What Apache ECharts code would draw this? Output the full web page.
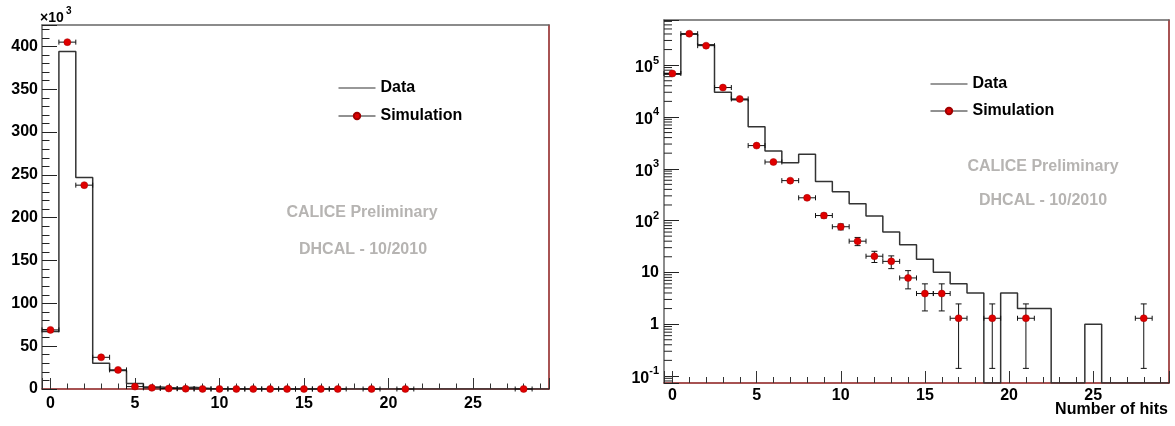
<!DOCTYPE html>
<html><head><meta charset="utf-8">
<script src="https://cdn.jsdelivr.net/npm/echarts@6/dist/echarts.min.js"></script>
<style>html,body{margin:0;padding:0;background:#fff}#c{width:1175px;height:426px}</style>
</head><body><div id="c"></div>
<script>
// ---- data ----
const binCenters = [0,1,2,3,4,5,6,7,8,9,10,11,12,13,14,15,16,17,18,19,20,21,22,23,24,25,26,27,28,29];
const dataCounts = [67000,394000,247000,30000,21500,6500,2200,1300,1900,570,360,210,122,60,34,18,10,6,4,0,4,2,2,0,0,1,0,0,0,0];
const simHits   = [0,1,2,3,4,5,6,7,8,9,10,11,12,13,14,15,16,17,19,21,28];
const simCounts = [69000,405000,238000,37000,22300,2800,1350,590,275,125,76,40,20.5,16.3,7.8,3.9,3.9,1.3,1.3,1.3,1.3];
const simErrors = [300,700,550,220,170,60,42,28,19,13,10,7.2,5,4.5,3.0,2.1,2.1,1.16,1.16,1.16,1.16];
const linTickLabels = ['0','50','100','150','200','250','300','350','400'];
const logTickLabels = ['10^-1','1','10','10^2','10^3','10^4','10^5'];
const xTickLabels = ['0','5','10','15','20','25'];
const xAxisTitle = 'Number of hits';

const LOG_MIN = -1.136, LOG_MAX = 5.872;
const FONT = 'Liberation Sans, Arial, sans-serif';
const RED_AXIS = '#8b1a1a';
const GRAY_AXIS = '#666';

const lin = v => v / 1000;
const lg = v => v > 0 ? Math.log10(v) : LOG_MIN;

function stepPoints(tf) {
  const pts = [];
  dataCounts.forEach((v, i) => {
    const c = binCenters[i];
    pts.push([c - 0.5, tf(v)], [c + 0.5, tf(v)]);
  });
  return pts;
}
function simPoints(tf) { return simHits.map((x, i) => [x, tf(simCounts[i])]); }
function simBars(tf) {
  return simHits.map((x, i) => [x, tf(simCounts[i]), tf(simCounts[i] - simErrors[i]), tf(simCounts[i] + simErrors[i])]);
}
function errRender(params, api) {
  const x = api.value(0), y = api.value(1), lo = api.value(2), hi = api.value(3);
  const a = api.coord([x - 0.5, y]), b = api.coord([x + 0.5, y]);
  const l = api.coord([x, lo]), h = api.coord([x, hi]);
  const st = {stroke: '#111', lineWidth: 1};
  const ch = [
    {type: 'line', shape: {x1: a[0], y1: a[1], x2: b[0], y2: b[1]}, style: st},
    {type: 'line', shape: {x1: a[0], y1: a[1] - 2.5, x2: a[0], y2: a[1] + 2.5}, style: st},
    {type: 'line', shape: {x1: b[0], y1: b[1] - 2.5, x2: b[0], y2: b[1] + 2.5}, style: st}
  ];
  if (Math.abs(h[1] - l[1]) > 2) {
    ch.push({type: 'line', shape: {x1: l[0], y1: l[1], x2: h[0], y2: h[1]}, style: st});
    ch.push({type: 'line', shape: {x1: l[0] - 3, y1: l[1], x2: l[0] + 3, y2: l[1]}, style: st});
    ch.push({type: 'line', shape: {x1: h[0] - 3, y1: h[1], x2: h[0] + 3, y2: h[1]}, style: st});
  }
  return {type: 'group', children: ch};
}
// minor ticks of the log axis (2..9 x 10^n)
const logMinor = [];
for (let n = -2; n <= 5; n++) for (let k = 2; k <= 9; k++) {
  const v = Math.log10(k) + n;
  if (v > LOG_MIN && v < LOG_MAX) logMinor.push([v]);
}
function minorRender(params, api) {
  const p = api.coord([-0.5, api.value(0)]);
  return {type: 'line', shape: {x1: p[0], y1: p[1], x2: p[0] + 8, y2: p[1]}, style: {stroke: '#222', lineWidth: 1}};
}

function xAxisMain(grid, tickLen) {
  return {
    gridIndex: grid, type: 'value', min: -0.5, max: 29.5, minInterval: 5, maxInterval: 5,
    axisLine: {onZero: false, lineStyle: {color: RED_AXIS, width: 1.5}},
    axisTick: {inside: true, length: tickLen, lineStyle: {color: '#333'}},
    minorTick: {show: true, splitNumber: 5, length: tickLen / 2, lineStyle: {color: '#333'}},
    splitLine: {show: false}, minorSplitLine: {show: false},
    axisLabel: {
      margin: grid === 0 ? 7 : 5, fontSize: 16, fontWeight: 'bold', fontFamily: FONT, color: '#000',
      formatter: v => { const i = xTickLabels.indexOf(String(v)); return i >= 0 ? xTickLabels[i] : ''; }
    }
  };
}
function frameAxis(grid, pos, color) {
  return {
    gridIndex: grid, type: 'value', position: pos, min: 0, max: 1,
    axisLine: {show: true, onZero: false, lineStyle: {color: color, width: 1.5}},
    axisTick: {show: false}, axisLabel: {show: false}, splitLine: {show: false}
  };
}

const chart = echarts.init(document.getElementById('c'), null, {renderer: 'canvas'});
chart.setOption({
  animation: false,
  backgroundColor: '#fff',
  grid: [
    {left: 42, top: 25, width: 507, height: 364, containLabel: false, outerBoundsMode: 'none'},
    {left: 664, top: 20, width: 505, height: 363, containLabel: false, outerBoundsMode: 'none'}
  ],
  xAxis: [
    xAxisMain(0, 11),
    frameAxis(0, 'top', GRAY_AXIS),
    xAxisMain(1, 12),
    frameAxis(1, 'top', GRAY_AXIS)
  ],
  yAxis: [
    {
      gridIndex: 0, type: 'value', min: 0, max: 425, interval: 50,
      axisLine: {show: true, onZero: false, lineStyle: {color: GRAY_AXIS, width: 1.5}},
      axisTick: {inside: true, length: 15, lineStyle: {color: '#222'}},
      minorTick: {show: true, splitNumber: 5, length: 7.5, lineStyle: {color: '#222'}},
      splitLine: {show: false}, minorSplitLine: {show: false},
      axisLabel: {
        margin: 4, fontSize: 16, fontWeight: 'bold', fontFamily: FONT, color: '#000',
        formatter: v => { const i = linTickLabels.indexOf(String(v)); return i >= 0 ? linTickLabels[i] : ''; }
      }
    },
    frameAxis(0, 'right', RED_AXIS),
    {
      gridIndex: 1, type: 'value', min: LOG_MIN, max: LOG_MAX, minInterval: 1, maxInterval: 1,
      axisLine: {show: true, onZero: false, lineStyle: {color: GRAY_AXIS, width: 1.5}},
      axisTick: {inside: true, length: 15, lineStyle: {color: '#222'}},
      splitLine: {show: false},
      axisLabel: {
        margin: 5, fontSize: 16, fontWeight: 'bold', fontFamily: FONT, color: '#000',
        rich: {
          b: {fontSize: 16, fontWeight: 'bold', fontFamily: FONT, color: '#000', padding: [5, 0, 0, 0]},
          s: {fontSize: 11, fontWeight: 'bold', fontFamily: FONT, color: '#000', padding: [0, 0, 9, 0]}
        },
        formatter: v => {
          if (Math.abs(v - Math.round(v)) > 1e-6) return '';
          const idx = Math.round(v) + 1;
          const t = logTickLabels[idx];
          if (!t) return '';
          const parts = t.split('^');
          return parts.length > 1 ? '{b|' + parts[0] + '}{s|' + parts[1] + '}' : t;
        }
      }
    },
    frameAxis(1, 'right', RED_AXIS)
  ],
  legend: [
    {
      left: 333, top: 74, orient: 'vertical', itemWidth: 37, itemHeight: 8, itemGap: 10,
      textStyle: {fontSize: 16, fontWeight: 'bold', fontFamily: FONT, color: '#000', lineHeight: 18},
      data: [
        {name: 'Data', icon: 'path://M0,0H60V1.6H0Z', itemStyle: {color: '#333'}},
        {name: 'Simulation', lineStyle: {color: '#222', width: 1, opacity: 1}, itemStyle: {color: '#e00000'}}
      ],
      selectedMode: false
    },
    {
      left: 925, top: 70, orient: 'vertical', itemWidth: 37, itemHeight: 8, itemGap: 9,
      textStyle: {fontSize: 16, fontWeight: 'bold', fontFamily: FONT, color: '#000', lineHeight: 18},
      data: [
        {name: 'Data', icon: 'path://M0,0H60V1.6H0Z', itemStyle: {color: '#333'}},
        {name: 'Simulation', lineStyle: {color: '#222', width: 1, opacity: 1}, itemStyle: {color: '#e00000'}}
      ],
      selectedMode: false
    }
  ],
  graphic: [
    {type: 'text', x: 40, y: 11, style: {text: '×10', font: 'bold 14px ' + FONT, fill: '#000'}},
    {type: 'text', x: 66, y: 6, style: {text: '3', font: 'bold 10px ' + FONT, fill: '#000'}},
    {type: 'text', x: 1168, y: 410, style: {text: xAxisTitle, font: 'bold 16px ' + FONT, fill: '#000', textAlign: 'right', textVerticalAlign: 'middle'}},
    {type: 'text', x: 362, y: 213, style: {text: 'CALICE Preliminary', font: 'bold 16px ' + FONT, fill: '#b6b4b2', textAlign: 'center', textVerticalAlign: 'middle'}},
    {type: 'text', x: 363, y: 250, style: {text: 'DHCAL - 10/2010', font: 'bold 16px ' + FONT, fill: '#b6b4b2', textAlign: 'center', textVerticalAlign: 'middle'}},
    {type: 'text', x: 1043, y: 167, style: {text: 'CALICE Preliminary', font: 'bold 16px ' + FONT, fill: '#b6b4b2', textAlign: 'center', textVerticalAlign: 'middle'}},
    {type: 'text', x: 1043, y: 201, style: {text: 'DHCAL - 10/2010', font: 'bold 16px ' + FONT, fill: '#b6b4b2', textAlign: 'center', textVerticalAlign: 'middle'}}
  ],
  series: [
    {name: 'Data', type: 'line', xAxisIndex: 0, yAxisIndex: 0, data: stepPoints(lin), symbol: 'none',
     lineStyle: {color: '#333', width: 1.5}, itemStyle: {color: '#333'}, z: 3, silent: true},
    {name: 'Simulation', type: 'line', xAxisIndex: 0, yAxisIndex: 0, data: simPoints(lin), symbol: 'circle', symbolSize: 7,
     lineStyle: {opacity: 0, width: 0}, itemStyle: {color: '#e00000', borderColor: '#a00000', borderWidth: 0.5}, z: 5, silent: true},
    {name: 'Simulation', type: 'custom', xAxisIndex: 0, yAxisIndex: 0, data: simBars(lin), renderItem: errRender, z: 4, silent: true},

    {name: 'Data', type: 'line', xAxisIndex: 2, yAxisIndex: 2, data: stepPoints(lg), symbol: 'none',
     lineStyle: {color: '#333', width: 1.5}, itemStyle: {color: '#333'}, z: 3, silent: true},
    {name: 'Simulation', type: 'line', xAxisIndex: 2, yAxisIndex: 2, data: simPoints(lg), symbol: 'circle', symbolSize: 7,
     lineStyle: {opacity: 0, width: 0}, itemStyle: {color: '#e00000', borderColor: '#a00000', borderWidth: 0.5}, z: 5, silent: true},
    {name: 'Simulation', type: 'custom', xAxisIndex: 2, yAxisIndex: 2, data: simBars(lg), renderItem: errRender, z: 4, silent: true},
    {name: 'logMinorTicks', type: 'custom', xAxisIndex: 2, yAxisIndex: 2, data: logMinor, renderItem: minorRender, z: 2, silent: true}
  ]
});
</script>
</body></html>
